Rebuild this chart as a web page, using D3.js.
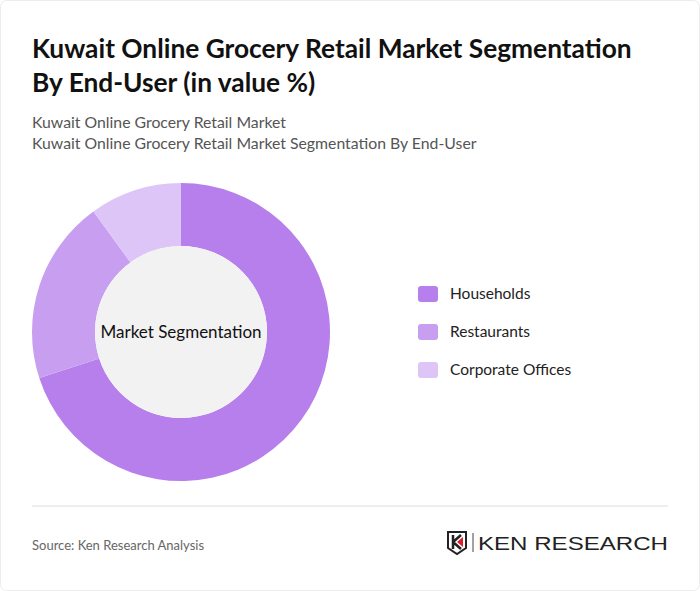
<!DOCTYPE html>
<html><head><meta charset="utf-8">
<script src="https://cdn.jsdelivr.net/npm/d3@7"></script>
<style>body{margin:0;background:#fff;font-family:Lato,sans-serif;}</style>
</head><body>
<svg id="chart" width="700" height="591"></svg>
<script>
// chart data
var segments = ["Households", "Restaurants", "Corporate Offices"];
var shares = [70, 20, 10];
var colors = ["#b67fec", "#c89ef1", "#ddc5f8"];

var svg = d3.select("#chart");
svg.append("rect").attr("x", 0.5).attr("y", 0.5).attr("width", 699).attr("height", 590).attr("rx", 6)
    .attr("fill", "#fff").attr("stroke", "#ececec");

svg.append("text").attr("x", 32).attr("y", 58).attr("font-size", 26.3).attr("font-weight", 700)
    .attr("fill", "#111").text("Kuwait Online Grocery Retail Market Segmentation");
svg.append("text").attr("x", 32).attr("y", 92).attr("font-size", 26.3).attr("font-weight", 700)
    .attr("fill", "#111").text("By End-User (in value %)");
svg.append("text").attr("x", 32).attr("y", 128).attr("font-size", 15.8).attr("fill", "#555")
    .text("Kuwait Online Grocery Retail Market");
svg.append("text").attr("x", 32).attr("y", 149).attr("font-size", 15.8).attr("fill", "#555")
    .text("Kuwait Online Grocery Retail Market Segmentation By End-User");

var g = svg.append("g").attr("transform", "translate(181,332)");
var pie = d3.pie().sort(null).value(d => d);
var arc = d3.arc().innerRadius(86).outerRadius(149);
g.selectAll("path").data(pie(shares)).enter().append("path")
    .attr("d", arc).attr("fill", (d, i) => colors[i]);
g.append("circle").attr("r", 86).attr("fill", "#f2f2f2");
g.append("text").attr("text-anchor", "middle").attr("dy", 6).attr("font-size", 17)
    .attr("fill", "#111").text("Market Segmentation");

var legend = svg.selectAll(".leg").data(segments).enter().append("g")
    .attr("transform", (d, i) => "translate(418," + (286 + i * 38) + ")");
legend.append("rect").attr("width", 20).attr("height", 16).attr("rx", 3)
    .attr("fill", (d, i) => colors[i]);
legend.append("text").attr("x", 32).attr("y", 13).attr("font-size", 15.5).attr("fill", "#222")
    .text(d => d);

svg.append("line").attr("x1", 32).attr("x2", 668).attr("y1", 506).attr("y2", 506)
    .attr("stroke", "#ddd");
svg.append("text").attr("x", 32).attr("y", 550).attr("font-size", 13).attr("fill", "#666")
    .text("Source: Ken Research Analysis");

// logo
var logo = svg.append("g").attr("transform", "translate(448,532)");
logo.append("path").attr("d", "M0,0 H18 V16 L9,22 L0,16 Z").attr("fill", "none")
    .attr("stroke", "#222").attr("stroke-width", 2);
logo.append("path").attr("d", "M5,3 V17 M5,10 L13,3 M5,10 L13,17").attr("stroke", "#222")
    .attr("stroke-width", 2.5).attr("fill", "none");
logo.append("path").attr("d", "M9,10 L15,5 V15 Z").attr("fill", "#d9202a");
logo.append("line").attr("x1", 25).attr("x2", 25).attr("y1", 1).attr("y2", 20)
    .attr("stroke", "#444");
logo.append("text").attr("x", 30).attr("y", 18).attr("font-size", 19).attr("font-family", "'Liberation Sans',sans-serif")
    .attr("fill", "#222").attr("textLength", 190).attr("lengthAdjust", "spacingAndGlyphs").text("KEN RESEARCH");
</script>
</body></html>
